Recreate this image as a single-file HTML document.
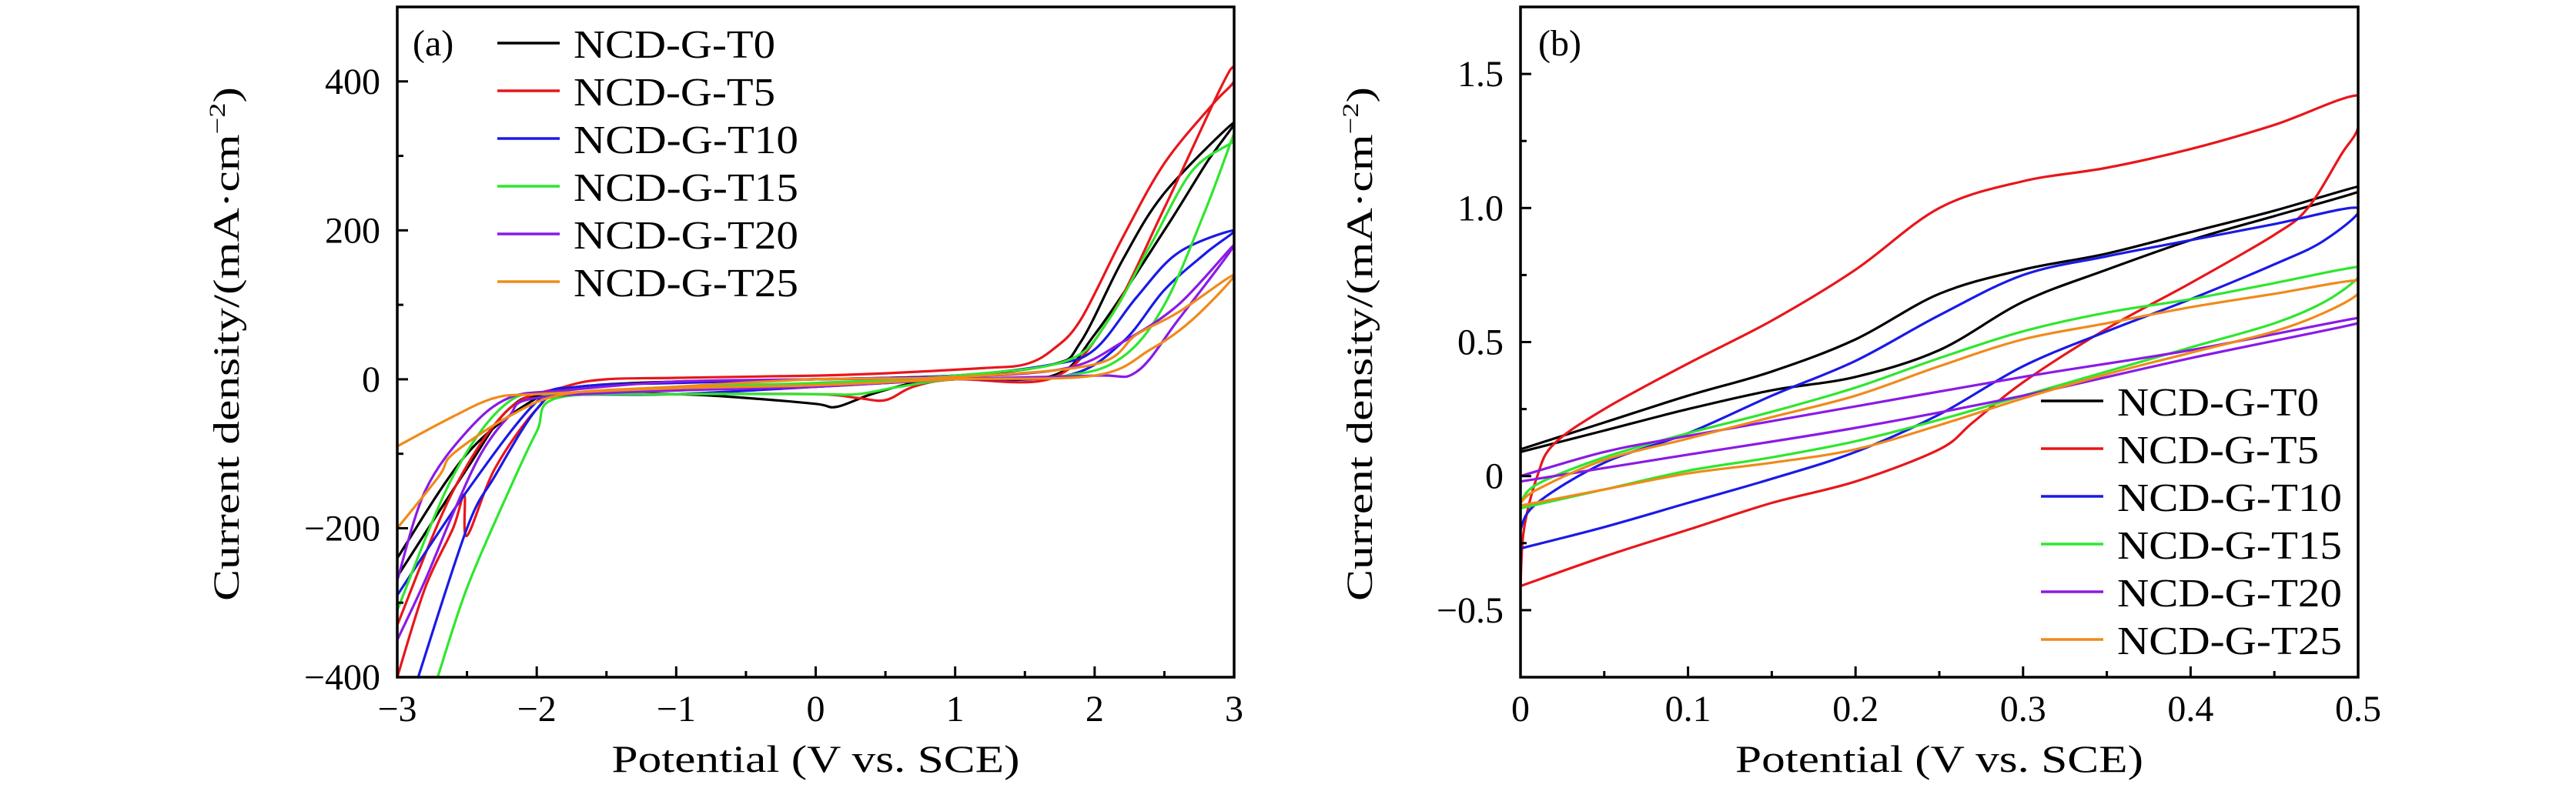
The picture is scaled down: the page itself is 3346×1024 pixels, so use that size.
<!DOCTYPE html>
<html><head><meta charset="utf-8"><style>
html,body{margin:0;padding:0;background:#fff;}
svg{display:block;}
text{font-family:"Liberation Serif",serif;fill:#000;}
</style></head>
<body>
<svg id="fig" width="3346" height="1024" viewBox="0 0 3346 1024" xmlns="http://www.w3.org/2000/svg"></svg>
<script>
// ---------- Panel (a) data ----------
const aXTicks = [-3,-2,-1,0,1,2,3];
const aYTicks = [-400,-200,0,200,400];
const aYTickLabels = ["\u2212400","\u2212200","0","200","400"];
const aXTickLabels = ["\u22123","\u22122","\u22121","0","1","2","3"];
const seriesNames = ["NCD-G-T0","NCD-G-T5","NCD-G-T10","NCD-G-T15","NCD-G-T20","NCD-G-T25"];
const seriesColors = ["#000000","#e8161b","#1a1ae6","#2ee62e","#8a1ae6","#f08a1a"];
const aT0 = [[-3,-265],[-2.5,-120],[-2.2,-40],[-1.9,-20],[-1,-20],[-0.5,-25],[0,-33],[0.15,-37],[0.4,-20],[0.7,-5],[1,0],[1.7,5],[2,60],[2.5,200],[2.8,290],[3,345],[2.5,250],[2.2,160],[1.9,50],[1.7,20],[1,5],[0,0],[-1,-3],[-1.7,-10],[-2,-25],[-2.5,-100],[-3,-240]];
const aT5 = [[-3,-400],[-2.8,-280],[-2.6,-200],[-2.52,-155],[-2.5,-210],[-2.3,-120],[-2,-40],[-1.8,-22],[-1,-20],[0,-20],[0.3,-25],[0.5,-28],[0.7,-10],[1,0],[1.7,2],[2.1,80],[2.5,230],[2.9,390],[3,420],[3,400],[2.85,370],[2.5,290],[2.2,190],[1.9,80],[1.7,40],[1.5,20],[1.2,15],[0.5,8],[0,5],[-1,2],[-1.5,0],[-1.8,-10],[-2.2,-40],[-2.6,-150],[-3,-330]];
const aT10 = [[-2.85,-400],[-2.5,-200],[-2.3,-130],[-2,-40],[-1.8,-22],[-1,-20],[0,-10],[0.5,-5],[1,0],[1.8,5],[2.2,50],[2.5,120],[2.8,170],[3,200],[2.6,170],[2.3,110],[2,40],[1.7,20],[1,5],[0,0],[-1,-5],[-1.7,-10],[-2,-30],[-2.5,-150],[-3,-290]];
const aT15 = [[-2.71,-400],[-2.5,-280],[-2.2,-150],[-2,-70],[-1.85,-25],[-1,-20],[0,-20],[0.3,-20],[0.6,-10],[1,0],[1.8,5],[2.2,30],[2.5,100],[2.8,230],[3,330],[3,320],[2.7,280],[2.4,180],[2.1,80],[1.8,25],[1,5],[0,-5],[-1,-10],[-1.8,-20],[-2.2,-30],[-2.6,-130],[-3,-310]];
const aT20 = [[-3,-350],[-2.8,-270],[-2.6,-180],[-2.4,-100],[-2.2,-50],[-2,-25],[-1,-15],[0,-10],[1,0],[2,5],[2.3,10],[2.6,80],[3,180],[2.6,100],[2.2,50],[1.8,15],[1,3],[0,0],[-1,-3],[-1.8,-15],[-2.2,-25],[-2.5,-70],[-2.8,-150],[-3,-270]];
const aT25 = [[-3,-90],[-2.6,-50],[-2.3,-25],[-2,-20],[-1,-12],[0,-8],[1,0],[2,5],[2.4,40],[2.7,80],[3,140],[2.6,90],[2.3,60],[2,20],[1,3],[0,0],[-1,-10],[-1.8,-20],[-2.2,-50],[-2.6,-100],[-2.7,-130],[-3,-200]];
// ---------- Panel (b) data ----------
const bXTicks = [0,0.1,0.2,0.3,0.4,0.5];
const bXTickLabels = ["0","0.1","0.2","0.3","0.4","0.5"];
const bYTicks = [-0.5,0,0.5,1.0,1.5];
const bYTickLabels = ["\u22120.5","0","0.5","1.0","1.5"];
const bT0 = [[0,0.1],[0.05,0.2],[0.1,0.3],[0.15,0.39],[0.2,0.51],[0.25,0.68],[0.3,0.77],[0.35,0.83],[0.4,0.91],[0.45,0.99],[0.5,1.08],[0.5,1.06],[0.45,0.97],[0.4,0.88],[0.35,0.77],[0.3,0.65],[0.25,0.47],[0.2,0.37],[0.15,0.32],[0.1,0.25],[0.05,0.17],[0,0.09]];
const bT5 = [[0,-0.41],[0.002,-0.2],[0.01,0.0],[0.02,0.12],[0.05,0.25],[0.1,0.42],[0.15,0.58],[0.2,0.77],[0.25,1.0],[0.3,1.1],[0.35,1.15],[0.4,1.22],[0.45,1.31],[0.5,1.42],[0.5,1.3],[0.49,1.2],[0.47,1.0],[0.45,0.9],[0.4,0.72],[0.35,0.55],[0.3,0.35],[0.27,0.2],[0.25,0.1],[0.2,-0.02],[0.15,-0.1],[0.1,-0.2],[0.05,-0.3],[0,-0.41]];
const bT10 = [[0,-0.27],[0.05,-0.19],[0.1,-0.1],[0.15,-0.01],[0.2,0.09],[0.25,0.23],[0.3,0.41],[0.35,0.54],[0.4,0.66],[0.45,0.79],[0.48,0.88],[0.5,1.0],[0.45,0.94],[0.4,0.88],[0.35,0.82],[0.3,0.75],[0.25,0.6],[0.2,0.43],[0.15,0.3],[0.1,0.16],[0.05,0.05],[0.01,-0.1],[0,-0.2],[0,-0.27]];
const bT15 = [[0,-0.12],[0.05,-0.05],[0.1,0.02],[0.15,0.07],[0.2,0.13],[0.25,0.21],[0.3,0.3],[0.35,0.39],[0.4,0.48],[0.45,0.57],[0.48,0.65],[0.5,0.74],[0.5,0.78],[0.45,0.72],[0.4,0.66],[0.35,0.61],[0.3,0.54],[0.25,0.44],[0.2,0.33],[0.15,0.24],[0.1,0.16],[0.05,0.07],[0.01,-0.03],[0,-0.1]];
const bT20 = [[0,0.0],[0.05,0.09],[0.1,0.15],[0.2,0.26],[0.3,0.37],[0.4,0.47],[0.5,0.59],[0.5,0.57],[0.4,0.44],[0.3,0.3],[0.2,0.18],[0.1,0.08],[0.05,0.03],[0,-0.02]];
const bT25 = [[0,-0.11],[0.05,-0.05],[0.1,0.01],[0.15,0.05],[0.2,0.1],[0.25,0.19],[0.3,0.29],[0.35,0.38],[0.4,0.46],[0.45,0.54],[0.48,0.61],[0.5,0.68],[0.5,0.73],[0.45,0.68],[0.4,0.63],[0.35,0.57],[0.3,0.51],[0.25,0.41],[0.2,0.3],[0.15,0.22],[0.1,0.14],[0.05,0.06],[0.01,-0.05],[0,-0.1]];

const NS = "http://www.w3.org/2000/svg";
const svg = document.getElementById('fig');
function mk(tag, attrs, parent){ const e=document.createElementNS(NS,tag); for(const k in attrs) e.setAttribute(k,attrs[k]); (parent||svg).appendChild(e); return e; }
function smoothPath(pts){
  let d='M'+pts[0][0].toFixed(1)+','+pts[0][1].toFixed(1);
  for(let i=0;i<pts.length-1;i++){
    const p0=pts[Math.max(0,i-1)],p1=pts[i],p2=pts[i+1],p3=pts[Math.min(pts.length-1,i+2)];
    const c1=[p1[0]+(p2[0]-p0[0])/6,p1[1]+(p2[1]-p0[1])/6];
    const c2=[p2[0]-(p3[0]-p1[0])/6,p2[1]-(p3[1]-p1[1])/6];
    d+=' C'+c1[0].toFixed(1)+','+c1[1].toFixed(1)+' '+c2[0].toFixed(1)+','+c2[1].toFixed(1)+' '+p2[0].toFixed(1)+','+p2[1].toFixed(1);
  }
  return d;
}

function panel(cfg){
  const g = mk('g',{});
  
  
  const L=cfg.L,R=cfg.R,T=9,B=880;
  const sx = v => L + (v-cfg.x0)/(cfg.x1-cfg.x0)*(R-L);
  const sy = v => B - (v-cfg.y0)/(cfg.y1-cfg.y0)*(B-T);
  const clip = mk('clipPath',{id:'clip-'+cfg.id},g);
  mk('rect',{x:L,y:T,width:R-L,height:B-T},clip);
  const sg = mk('g',{'clip-path':'url(#clip-'+cfg.id+')'},g);
  cfg.series.forEach((s,i)=>{
    const p = mk('path',{d:smoothPath(s.map(d=>[sx(d[0]),sy(d[1])])),fill:'none',stroke:seriesColors[i],'stroke-width':3.2,'stroke-linejoin':'round'},sg);
    
    
  });
  const fr = mk('rect',{x:L,y:T,width:R-L,height:B-T,fill:'none',stroke:'#000','stroke-width':3.5},g);
  
  
  cfg.xt.forEach((v,i)=>{
    mk('line',{x1:sx(v),x2:sx(v),y1:B,y2:B-14,stroke:'#000','stroke-width':3},g);
    if(i<cfg.xt.length-1){ const m=(v+cfg.xt[i+1])/2; mk('line',{x1:sx(m),x2:sx(m),y1:B,y2:B-8,stroke:'#000','stroke-width':3},g);}
    const t = mk('text',{x:sx(v),y:937,'font-size':48,'text-anchor':'middle'},g);
    t.textContent = cfg.xl[i];
    
    
  });
  cfg.yt.forEach((v,i)=>{
    mk('line',{x1:L,x2:L+14,y1:sy(v),y2:sy(v),stroke:'#000','stroke-width':3},g);
    const m=v+cfg.ystep/2; if(m<cfg.y1) mk('line',{x1:L,x2:L+8,y1:sy(m),y2:sy(m),stroke:'#000','stroke-width':3},g);
    const m2=v-cfg.ystep/2; if(i==0 && m2>cfg.y0) mk('line',{x1:L,x2:L+8,y1:sy(m2),y2:sy(m2),stroke:'#000','stroke-width':3},g);
    const t = mk('text',{x:L-22,y:sy(v)+16,'font-size':48,'text-anchor':'end'},g);
    t.textContent = cfg.yl[i];
    
    
  });
  const xt = mk('text',{x:(L+R)/2,y:1003,'font-size':50,'text-anchor':'middle',textLength:530,lengthAdjust:'spacingAndGlyphs'},g);
  xt.textContent='Potential (V vs. SCE)';
  
  
  const yt = mk('text',{x:0,y:0,'font-size':48,'text-anchor':'middle',textLength:668,lengthAdjust:'spacingAndGlyphs',transform:'translate('+(cfg.ytx)+',447) rotate(-90)'},g);
  yt.innerHTML='Current density/(mA·cm<tspan font-size="30" dy="-18">−2</tspan><tspan dy="18">)</tspan>';
  
  
  const lab = mk('text',{x:cfg.labX,y:72,'font-size':48},g);
  lab.textContent = cfg.label;
  
  
  seriesNames.forEach((n,i)=>{
    const y = cfg.legY + i*cfg.legDy;
    const lg = mk('g',{},g);
    
    
    mk('line',{x1:cfg.legX,x2:cfg.legX+81,y1:y,y2:y,stroke:seriesColors[i],'stroke-width':3.5},lg);
    const t = mk('text',{x:cfg.legX+99,y:y+19,'font-size':52,textLength:(n.length>8?292:262),lengthAdjust:'spacingAndGlyphs'},lg);
    t.textContent=n;
  });
}
panel({id:'a',L:516,R:1603,x0:-3,x1:3,y0:-400,y1:500,ystep:200,xt:aXTicks,xl:aXTickLabels,yt:aYTicks,yl:aYTickLabels,
  series:[aT0,aT5,aT10,aT15,aT20,aT25],ytx:310,labX:536,label:'(a)',legX:646,legY:56,legDy:62});
panel({id:'b',L:1975,R:3063,x0:0,x1:0.5,y0:-0.75,y1:1.75,ystep:0.5,xt:bXTicks,xl:bXTickLabels,yt:bYTicks,yl:bYTickLabels,
  series:[bT0,bT5,bT10,bT15,bT20,bT25],ytx:1782,labX:1998,label:'(b)',legX:2651,legY:521,legDy:62});
</script>
</body></html>
